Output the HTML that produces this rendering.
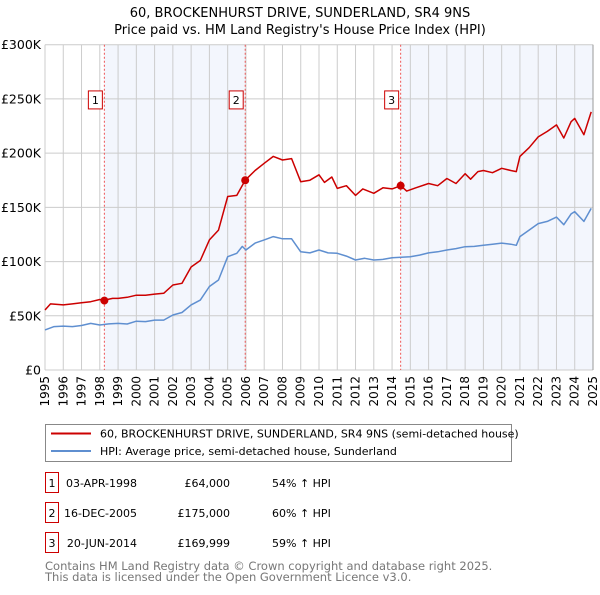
<!DOCTYPE html>
<html><head><meta charset="utf-8"><style>
body{margin:0;background:#fff;font-family:"Liberation Sans","DejaVu Sans",sans-serif;}
svg text{font-family:"DejaVu Sans","Liberation Sans",sans-serif;}
</style></head><body>
<svg id="c" width="600" height="590" xmlns="http://www.w3.org/2000/svg">
<text x="300" y="17" text-anchor="middle" font-size="13">60, BROCKENHURST DRIVE, SUNDERLAND, SR4 9NS</text>
<text x="300" y="34" text-anchor="middle" font-size="13">Price paid vs. HM Land Registry's House Price Index (HPI)</text>
<g id="plot"></g>
<g>
<rect x="45.5" y="424.5" width="466" height="37" fill="#fff" stroke="#888"/>
<line x1="51" y1="433.5" x2="91" y2="433.5" stroke="#cc0000" stroke-width="2"/>
<text x="100" y="437.5" font-size="11">60, BROCKENHURST DRIVE, SUNDERLAND, SR4 9NS (semi-detached house)</text>
<line x1="51" y1="451" x2="91" y2="451" stroke="#5f8fd0" stroke-width="2"/>
<text x="100" y="455" font-size="11">HPI: Average price, semi-detached house, Sunderland</text>
</g>
<g id="table" font-size="11"></g>
<text x="45" y="570" font-size="11.5" fill="#777">Contains HM Land Registry data © Crown copyright and database right 2025.</text>
<text x="45" y="581" font-size="11.5" fill="#777">This data is licensed under the Open Government Licence v3.0.</text>
</svg>
<script>
const hpiYears=[1995,1995.5,1996,1996.5,1997,1997.5,1998,1998.5,1999,1999.5,2000,2000.5,2001,2001.5,2002,2002.5,2003,2003.5,2004,2004.5,2005,2005.5,2005.8,2006,2006.5,2007,2007.5,2008,2008.5,2009,2009.5,2010,2010.5,2011,2011.5,2012,2012.5,2013,2013.5,2014,2014.5,2015,2015.5,2016,2016.5,2017,2017.5,2018,2018.5,2019,2019.5,2020,2020.5,2020.8,2021,2021.5,2022,2022.5,2023,2023.4,2023.8,2024,2024.5,2024.9];
const hpiValues=[37,40,40.5,40,41,43,41.5,42.5,43,42.4,45,44.6,46,46,50.7,53,60,64.5,77,83,104.5,107.6,114,110.7,117,120,123,121,121,109,108,110.7,108,107.6,105,101.4,103,101.4,102,103.6,104,104.5,106,108,109,110.7,112,113.7,114,115,116,117,116,115,123,129,135,137,141,134,144,146,137,149];
const saleYears=[1995,1995.3,1996,1996.5,1997,1997.5,1998,1998.25,1998.7,1999,1999.5,2000,2000.5,2001,2001.5,2002,2002.5,2003,2003.5,2004,2004.5,2005,2005.5,2005.96,2006.5,2007,2007.5,2008,2008.5,2009,2009.5,2010,2010.3,2010.7,2011,2011.5,2012,2012.4,2013,2013.5,2014,2014.47,2014.8,2015.3,2016,2016.5,2017,2017.5,2018,2018.3,2018.7,2019,2019.5,2020,2020.5,2020.8,2021,2021.5,2022,2022.5,2023,2023.4,2023.8,2024,2024.5,2024.9];
const saleValues=[55.3,61,60,61,62,63,65,64.5,66,66,67,69,69,70,70.7,78.4,80,95,101,120,129,160,161,175,184,190.6,197,193.7,195,173.7,175,180,173,178,167.5,170,161,167,163,168,167,170,165,168,172,170,176.6,172,181,176,183,184,182,186,184,183,197,205,215,220,226,214,229,232,217,238];
const ticksY=[0,50,100,150,200,250,300];
const tickYLabels=["£0","£50K","£100K","£150K","£200K","£250K","£300K"];
const saleMarkers=[1998.25,2005.96,2014.47];
const markerValues=[64,175,169.999];
const markerLabels=["1","2","3"];
const rowDates=["03-APR-1998","16-DEC-2005","20-JUN-2014"];
const rowPrices=["£64,000","£175,000","£169,999"];
const rowHpi=["54% ↑ HPI","60% ↑ HPI","59% ↑ HPI"];
const NS="http://www.w3.org/2000/svg";
const X0=45,X1=593,Y0=370,Y1=44.7;
const sx=y=>X0+(y-1995)/(2025-1995)*(X1-X0);
const sy=v=>Y0-(v/300)*(Y0-Y1);
const plot=document.getElementById('plot');
function mk(tag,attrs,parent){const e=document.createElementNS(NS,tag);for(const k in attrs)e.setAttribute(k,attrs[k]);(parent||plot).appendChild(e);return e;}
let s1=mk('rect',{x:sx(saleMarkers[0]),y:Y1,width:sx(saleMarkers[1])-sx(saleMarkers[0]),height:Y0-Y1,fill:'#eef2fc',opacity:0.7});


let s2=mk('rect',{x:sx(saleMarkers[2]),y:Y1,width:X1-sx(saleMarkers[2]),height:Y0-Y1,fill:'#eef2fc',opacity:0.7});


for(let yr=1995;yr<=2025;yr++){
 let l=mk('line',{x1:sx(yr),x2:sx(yr),y1:Y1,y2:Y0,stroke:'#cccccc','stroke-width':1});
 
 
 let t=mk('text',{x:0,y:0,'font-size':12,'text-anchor':'end',transform:`translate(${sx(yr)+4},${Y0+6}) rotate(-90)`});
 t.textContent=yr;
 
 
}
ticksY.forEach((v,i)=>{
 let l=mk('line',{x1:X0,x2:X1,y1:sy(v),y2:sy(v),stroke:'#cccccc','stroke-width':1});
 
 
 let t=mk('text',{x:X0-4,y:sy(v)+4.5,'font-size':12.5,'text-anchor':'end'});
 t.textContent=tickYLabels[i];
 
 
});
let ax=mk('line',{x1:X1,x2:X1,y1:Y1,y2:Y0,stroke:'#999'});


saleMarkers.forEach((m,i)=>{
 let l=mk('line',{x1:sx(m),x2:sx(m),y1:Y1,y2:Y0,stroke:'#ee5555','stroke-dasharray':'2,2','stroke-width':1});
 
 
});
function path(xs,vs,color,name){
 let d=xs.map((x,i)=>(i?'L':'M')+sx(x).toFixed(1)+','+sy(vs[i]).toFixed(1)).join('');
 let p=mk('path',{d:d,fill:'none',stroke:color,'stroke-width':1.5,'stroke-linejoin':'round'});
 
 
}
path(hpiYears,hpiValues,'#5f8fd0','hpi-line');
path(saleYears,saleValues,'#cc0000','price-paid-line');
saleMarkers.forEach((m,i)=>{
 let c=mk('circle',{cx:sx(m),cy:sy(markerValues[i]),r:4,fill:'#cc0000'});
 
 
 let b=mk('rect',{x:sx(m)-16,y:sy(250)-8,width:14,height:18,fill:'#fff',stroke:'#cc0000'});
 
 
 let t=mk('text',{x:sx(m)-9,y:sy(250)+5,'font-size':11,'text-anchor':'middle'});
 t.textContent=markerLabels[i];
 
 
});
const tb=document.getElementById('table');
markerLabels.forEach((lab,i)=>{
 const y=473+i*30;
 let b=mk('rect',{x:45.5,y:y-0.5,width:13,height:20,fill:'#fff',stroke:'#cc0000'},tb);
 
 
 let t=mk('text',{x:52,y:y+14,'text-anchor':'middle'},tb);t.textContent=lab;
 
 
 let d=mk('text',{x:137,y:y+14,'text-anchor':'end'},tb);d.textContent=rowDates[i];
 
 
 let p=mk('text',{x:230,y:y+14,'text-anchor':'end'},tb);p.textContent=rowPrices[i];
 
 
 let h=mk('text',{x:272,y:y+14},tb);h.textContent=rowHpi[i];
 
 
});
</script>
</body></html>
